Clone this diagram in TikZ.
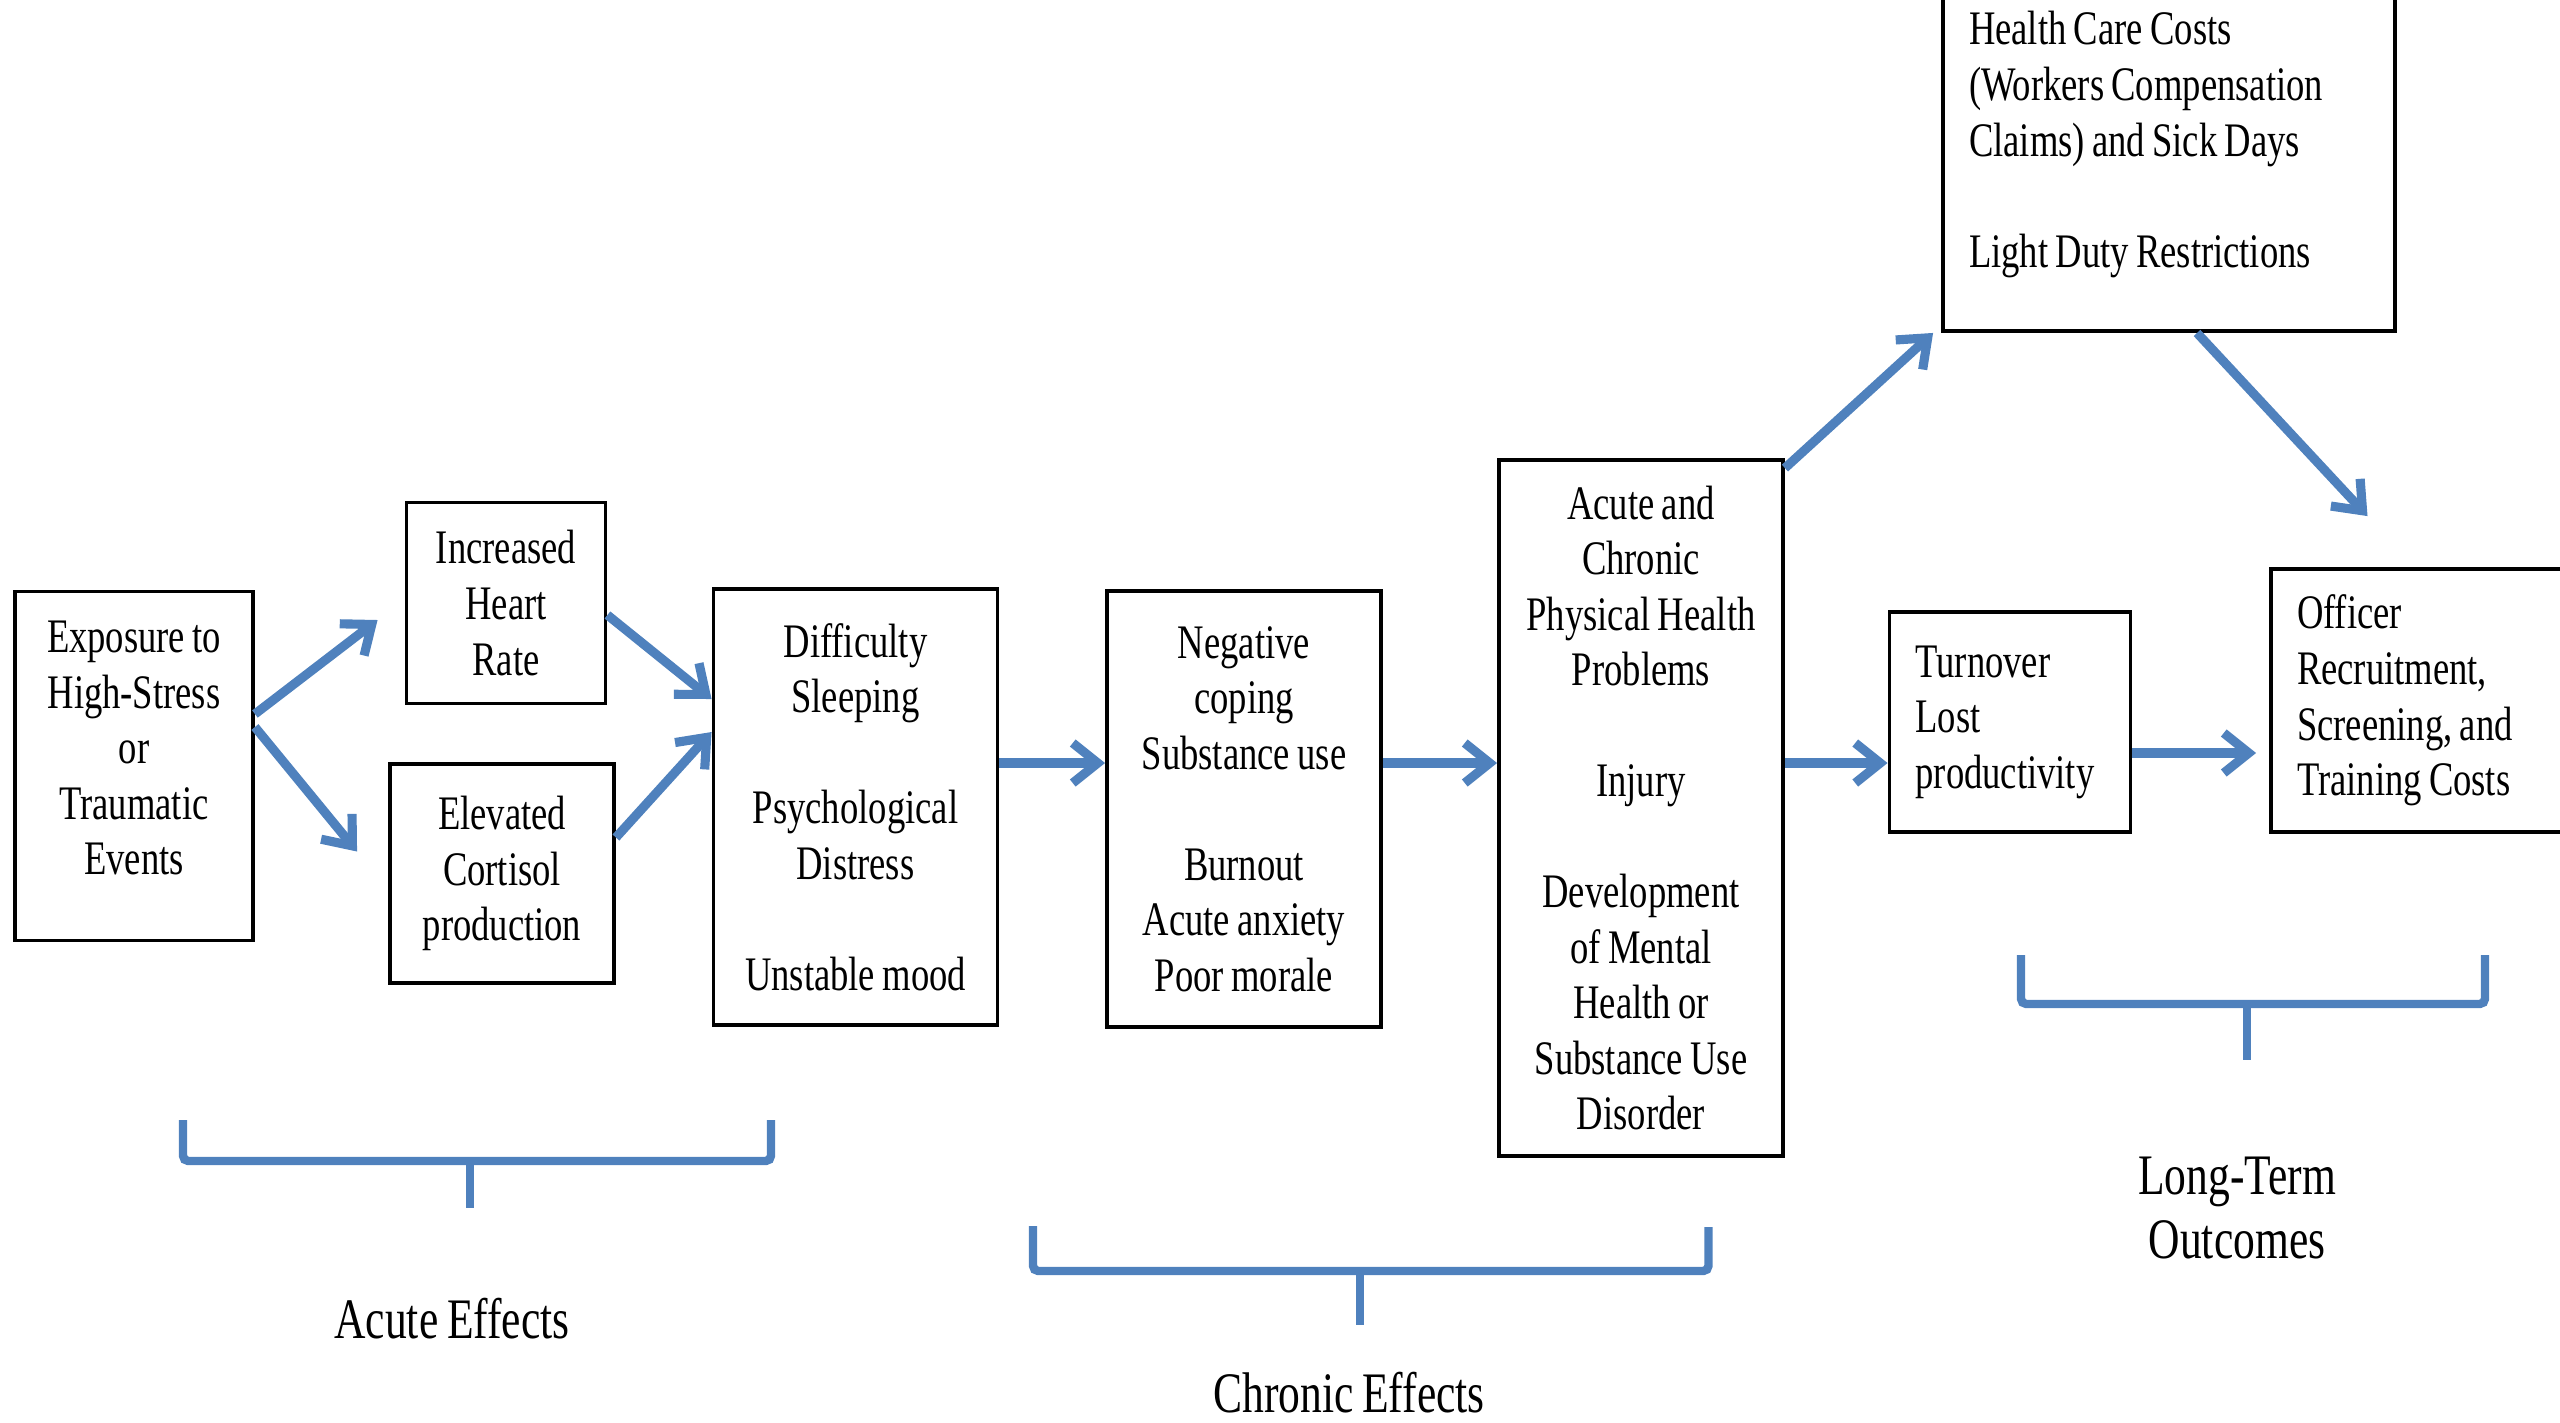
\documentclass[tikz,border=0pt]{standalone}
\usepackage{fontspec}
\setmainfont{Liberation Serif}[FakeStretch=0.76, WordSpace=0.8]
\usetikzlibrary{arrows.meta}
\definecolor{flowblue}{RGB}{79,129,189}

\begin{document}
\begin{tikzpicture}[>={Straight Barb[length=2.5mm,width=4mm]},
    box/.style={draw, line width=1.1pt, inner sep=0pt, align=flush center,
        font=\fontsize{13.7}{15.8}\selectfont,
        execute at begin node={\spaceskip=0pt\xspaceskip=0pt\relax}},
    leftbox/.style={box, align=flush left, inner xsep=2.6mm},
    flow/.style={->, line width=2.6pt, flowblue},
    brace/.style={line width=2.4pt, flowblue, rounded corners=1.5pt},
    phase/.style={align=center, font=\fontsize{16.3}{18.4}\selectfont}]

    \path[use as bounding box, clip] (0,0) rectangle (25.6,-14.22);

    % ============================================================
    % ACUTE EFFECTS
    % ============================================================
    \node[box, minimum width=2.38cm, minimum height=3.49cm, text width=2.38cm]
        (expo) at (1.34,-7.66) {Exposure to\\High-Stress\\or\\Traumatic\\Events\\[-5.6pt]\mbox{}};
    \node[box, minimum width=1.99cm, minimum height=2.01cm, text width=1.99cm]
        (heart) at (5.06,-6.03) {Increased\\Heart\\Rate};
    \node[box, minimum width=2.24cm, minimum height=2.19cm, text width=2.24cm]
        (cortisol) at (5.02,-8.735) {Elevated\\Cortisol\\production};
    \node[box, minimum width=2.84cm, minimum height=4.36cm, text width=2.84cm]
        (sleep) at (8.555,-8.07)
        {Difficulty\\Sleeping\\[15.8pt]Psychological\\Distress\\[15.8pt]Unstable mood};

    % ============================================================
    % CHRONIC EFFECTS
    % ============================================================
    \node[box, minimum width=2.74cm, minimum height=4.36cm, text width=2.74cm]
        (coping) at (12.44,-8.09)
        {Negative\\coping\\Substance use\\[15.8pt]Burnout\\Acute anxiety\\Poor morale};
    \node[box, minimum width=2.84cm, minimum height=6.96cm, text width=2.84cm]
        (physical) at (16.41,-8.08)
        {Acute and\\Chronic\\Physical Health\\Problems\\[15.8pt]Injury\\[15.8pt]Development\\of Mental\\Health or\\Substance Use\\Disorder};

    % ============================================================
    % LONG-TERM OUTCOMES
    % ============================================================
    \node[leftbox, minimum width=4.52cm, minimum height=3.73cm, text width=4.0cm]
        (costs) at (21.69,-1.445)
        {Health Care Costs\\(Workers Compensation\\Claims) and Sick Days\\[15.8pt]Light Duty Restrictions};
    \node[leftbox, minimum width=2.41cm, minimum height=2.20cm, text width=1.89cm]
        (turnover) at (20.10,-7.22) {Turnover\\Lost\\productivity};
    \node[leftbox, minimum width=3.19cm, minimum height=2.63cm, text width=2.67cm]
        (officer) at (24.305,-7.005) {Officer\\Recruitment,\\Screening, and\\Training Costs};

    % ============================================================
    % ARROWS
    % ============================================================
    \coordinate (row) at (0,-7.63);
    \coordinate (lowrow) at (0,-7.53);

    \draw[flow] ([yshift=5.2mm]expo.east) -- ([xshift=-2.7mm,yshift=-1.7mm]heart.west);
    \draw[flow] ([yshift=3.9mm]expo.east) -- ([xshift=-3.1mm,yshift=2.2mm]cortisol.west);
    \draw[flow] ([yshift=-1.2mm]heart.east) -- ([yshift=10.8mm]sleep.west);
    \draw[flow] ([yshift=3.6mm]cortisol.east) -- ([yshift=7.5mm]sleep.west);
    \draw[flow] (sleep.east |- row) -- (coping.west |- row);
    \draw[flow] (coping.east |- row) -- (physical.west |- row);
    \draw[flow] (physical.east |- row) -- (turnover.west |- row);
    \draw[flow] (turnover.east |- lowrow) -- ([xshift=-1.3mm]officer.west |- lowrow);
    \draw[flow] ([yshift=-1mm]physical.north east) -- ([xshift=-0.8mm]costs.south west);
    \draw[flow] ([xshift=2.8mm]costs.south) -- ([xshift=-6.3mm,yshift=5.1mm]officer.north);

    % ============================================================
    % BRACKETS AND PHASE LABELS
    % ============================================================
    \draw[brace] (1.83,-11.20) -- (1.83,-11.61) -- (7.71,-11.61) -- (7.71,-11.20);
    \draw[brace] (4.70,-11.61) -- (4.70,-12.08);
    \node[phase] (acutelbl) at (4.52,-13.19) {Acute Effects};

    \draw[brace] (10.33,-12.26) -- (10.33,-12.71) -- (17.085,-12.71) -- (17.085,-12.27);
    \draw[brace] (13.60,-12.71) -- (13.60,-13.25);
    \node[phase] (chroniclbl) at (13.49,-13.93) {Chronic Effects};

    \draw[brace] (20.21,-9.55) -- (20.21,-10.04) -- (24.85,-10.04) -- (24.85,-9.55);
    \draw[brace] (22.47,-10.04) -- (22.47,-10.60);
    \node[phase] (longlbl) at (22.37,-12.08) {Long-Term\\Outcomes};

\end{tikzpicture}
\end{document}
